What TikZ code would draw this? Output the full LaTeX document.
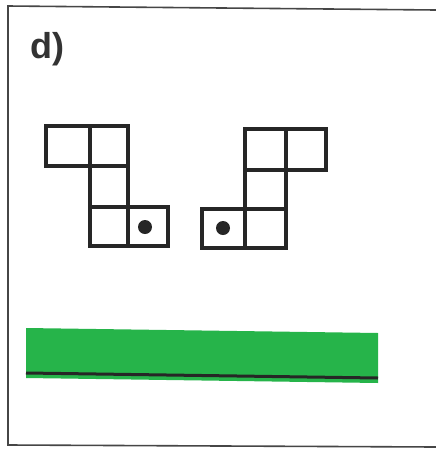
\documentclass[tikz,border=0pt]{standalone}
\usepackage{fontspec}
\setmainfont{Liberation Sans}
\definecolor{bargreen}{RGB}{38,180,74}
\definecolor{framegray}{RGB}{70,70,70}
\begin{document}
\begin{tikzpicture}[x=1pt,y=-1pt,
  cell/.style={draw=black!85,line width=3.6pt,line join=miter},
  dotmark/.style={fill=black!85}]
\useasboundingbox (0,0) rectangle (436,451);
\fill[white] (0,0) rectangle (436,451);
% frame
\draw[framegray,line width=1.6pt] (436,10) -- (8,6) -- (8,445) -- (436,447);
% label
\node[anchor=base west,inner sep=0pt,font=\fontsize{36}{40}\selectfont\bfseries,text=black!80] (lbl) at (30,58) {d)};
% left shape
\draw[cell] (46,126) rectangle (90,166);
\draw[cell] (90,126) rectangle (128,166);
\draw[cell] (90,166) rectangle (128,207);
\draw[cell] (90,207) rectangle (128,246);
\draw[cell] (128,207) rectangle (168,246);
\fill[dotmark] (145,227) circle (7);
% right shape
\draw[cell] (245,129) rectangle (286,170);
\draw[cell] (286,129) rectangle (326,170);
\draw[cell] (245,170) rectangle (286,209);
\draw[cell] (202,209) rectangle (245,248);
\draw[cell] (245,209) rectangle (286,248);
\fill[dotmark] (223,228) circle (7);
% green bar
\fill[bargreen] (26,328) -- (378,333) -- (378,383) -- (26,378) -- cycle;
\draw[black!85,line width=3pt] (26,373) -- (378,378);
\end{tikzpicture}
\end{document}
